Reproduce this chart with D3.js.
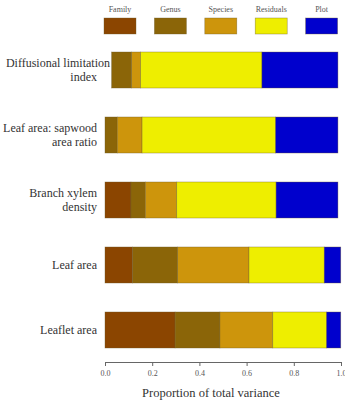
<!DOCTYPE html>
<html>
<head>
<meta charset="utf-8">
<script src="https://cdn.jsdelivr.net/npm/d3@7"></script>
<style>
  body { margin: 0; background: #fff; }
  svg { display: block; }
</style>
</head>
<body>
<svg id="chart" width="345" height="402"></svg>
<script>
// variance components (proportions of total variance)
const traits = [
  ['Diffusional limitation', 'index'],
  ['Leaf area: sapwood', 'area ratio'],
  ['Branch xylem', 'density'],
  ['Leaf area'],
  ['Leaflet area']
];
const components = ['Family', 'Genus', 'Species', 'Residuals', 'Plot'];
const barStart = [0.028, 0, 0, 0, 0];
const family    = [0.000, 0.000, 0.110, 0.117, 0.297];
const genus     = [0.085, 0.052, 0.061, 0.191, 0.190];
const species   = [0.038, 0.105, 0.133, 0.302, 0.224];
const residuals = [0.514, 0.566, 0.421, 0.319, 0.228];
const plot      = [0.322, 0.264, 0.262, 0.070, 0.060];
const xTicks = [0, 0.2, 0.4, 0.6, 0.8, 1.0];

const colors = ['#8B4500', '#8B6508', '#CD950C', '#EEEE00', '#0000CD'];
const FONT = 'Liberation Serif, DejaVu Serif, serif';

const svg = d3.select('#chart');

// build rows for the stack
const rows = traits.map((t, i) => ({
  key: i,
  Family: family[i], Genus: genus[i], Species: species[i],
  Residuals: residuals[i], Plot: plot[i]
}));
const stacked = d3.stack().keys(components)(rows);

const x = d3.scaleLinear().domain([0, 1]).range([105, 341]);
const y = d3.scaleBand().domain(d3.range(traits.length)).range([52, 348]).paddingInner(0.446);
const color = d3.scaleOrdinal().domain(components).range(colors);

// bars
const g = svg.append('g');
g.selectAll('g.layer')
  .data(stacked)
  .join('g')
  .attr('class', 'layer')
  .attr('fill', d => color(d.key))
  .selectAll('rect')
  .data(d => d.filter(s => s[1] - s[0] > 0))
  .join('rect')
  .attr('x', d => x(d[0] + barStart[d.data.key]))
  .attr('y', d => y(d.data.key))
  .attr('width', d => x(d[1]) - x(d[0]))
  .attr('height', y.bandwidth())
  .attr('stroke', '#6b5a2a')
  .attr('stroke-opacity', 0.6)
  .attr('stroke-width', 0.6);

// trait labels (drawn after bars; the long first line runs onto its bar as in the original)
const labels = svg.append('g')
  .attr('font-family', FONT)
  .attr('font-size', 12)
  .attr('fill', '#333')
  .attr('text-anchor', 'end');

traits.forEach((lines, i) => {
  const cy = y(i) + y.bandwidth() / 2;
  const lh = 14;
  const t = labels.append('text');
  lines.forEach((line, j) => {
    const long = line.length > 20;
    t.append('tspan')
      .attr('x', long ? 110 : 97)
      .attr('y', cy + (j - (lines.length - 1) / 2) * lh + 4)
      .text(line);
  });
});

// x axis
const axis = svg.append('g')
  .attr('transform', 'translate(0,362)')
  .call(d3.axisBottom(x).tickValues(xTicks).tickFormat(d3.format('.1f')).tickSize(4).tickPadding(4));
axis.select('.domain').attr('stroke', '#666');
axis.selectAll('.tick line').attr('stroke', '#666');
axis.selectAll('.tick text')
  .attr('font-family', FONT)
  .attr('font-size', 8)
  .attr('fill', '#555');

svg.append('text')
  .attr('x', 211)
  .attr('y', 397)
  .attr('text-anchor', 'middle')
  .attr('font-family', FONT)
  .attr('font-size', 12.5)
  .attr('fill', '#333')
  .text('Proportion of total variance');

// legend
const lx = d3.scaleBand().domain(components).range([104, 356]);
const legend = svg.append('g')
  .selectAll('g')
  .data(components)
  .join('g')
  .attr('transform', d => `translate(${lx(d)},0)`);

legend.append('rect')
  .attr('x', 0)
  .attr('y', 18)
  .attr('width', 32)
  .attr('height', 16)
  .attr('fill', d => color(d))
  .attr('stroke', '#6b5a2a')
  .attr('stroke-opacity', 0.6)
  .attr('stroke-width', 0.6);

legend.append('text')
  .attr('x', 16)
  .attr('y', 12)
  .attr('text-anchor', 'middle')
  .attr('font-family', FONT)
  .attr('font-size', 8)
  .attr('fill', '#555')
  .text(d => d);
</script>
</body>
</html>
